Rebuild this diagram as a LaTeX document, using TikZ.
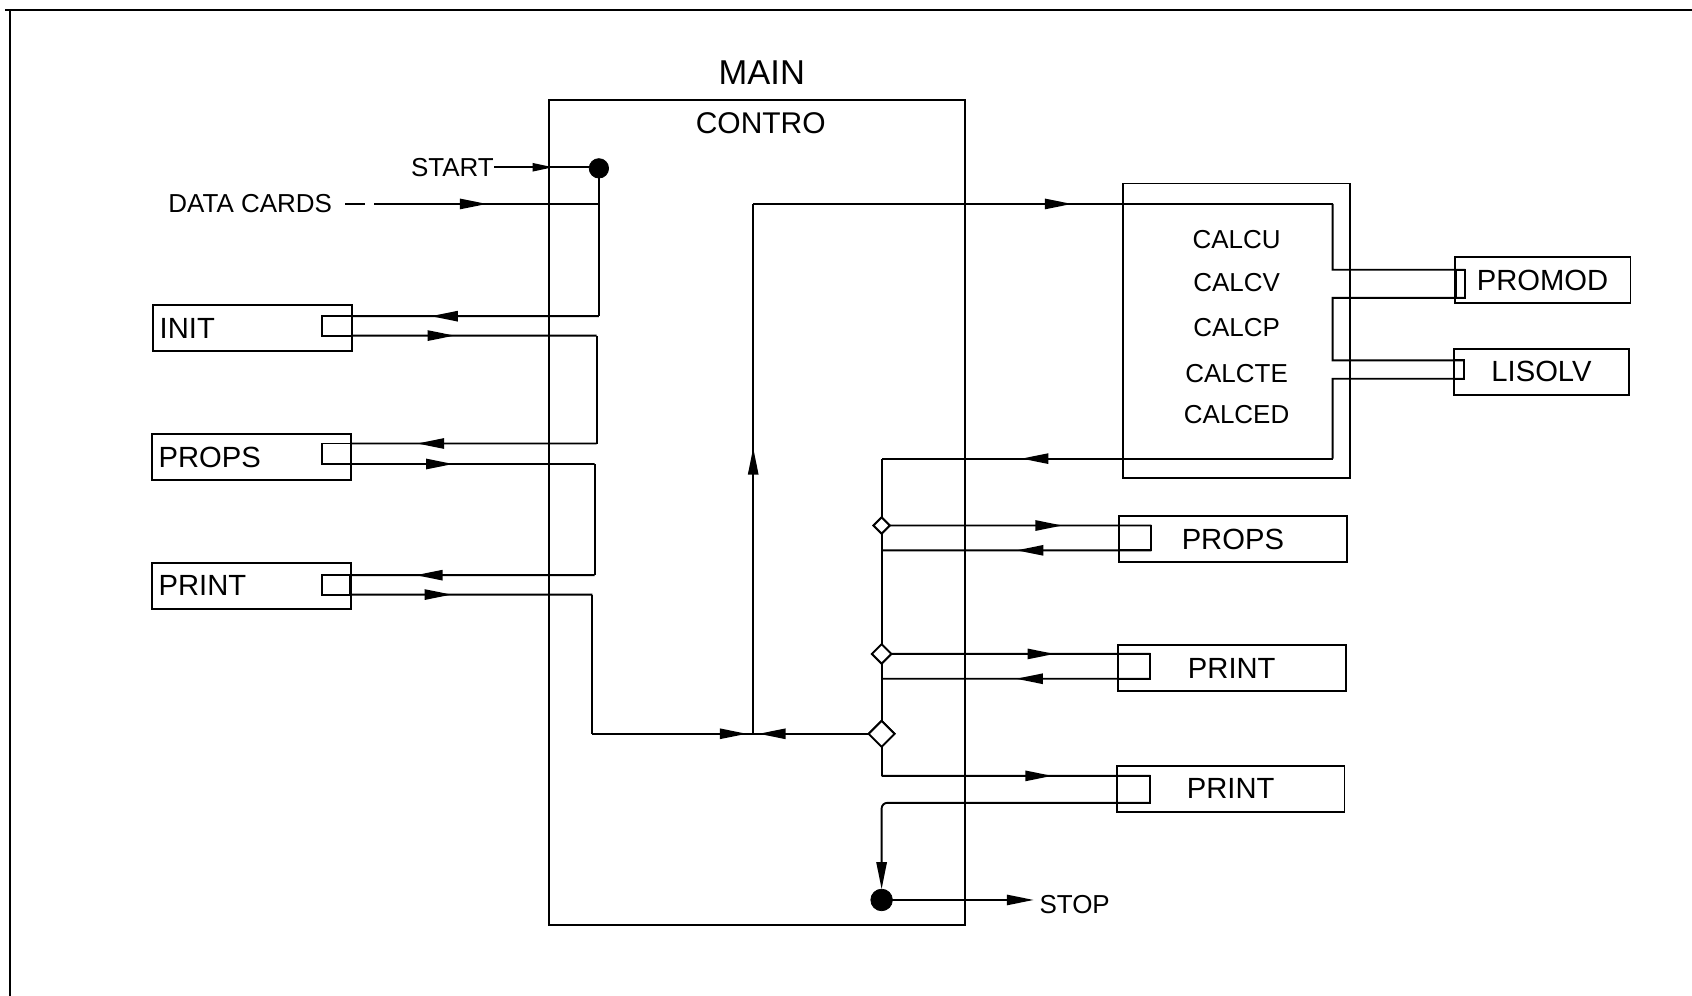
\documentclass[tikz,border=0pt]{standalone}
\usepackage{fontspec}
\setmainfont{Liberation Sans}
\usetikzlibrary{arrows.meta,decorations.markings,shapes.geometric}
\begin{document}
\begin{tikzpicture}[x=0.02cm, y=-0.02cm,
  ln/.style={line width=1pt},
  box/.style={draw, rectangle, line width=1pt, inner sep=0pt, outer sep=0pt},
  ah/.style={postaction={decorate}, decoration={markings, mark=at position #1 with {\arrow{Triangle[length=0.5cm,width=0.19cm]}}}},
  ahs/.style={postaction={decorate}, decoration={markings, mark=at position #1 with {\arrow{Triangle[length=0.38cm,width=0.15cm]}}}},
  endtip/.style={-{Triangle[length=0.5cm,width=0.19cm]}},
  sm/.style={font=\fontsize{13.7}{16}\selectfont, inner sep=0pt},
  bt/.style={font=\fontsize{15.4}{18}\selectfont},
  leftbox/.style={box, bt, minimum height=0.86cm, text width=3.44cm, align=left, inner xsep=0.12cm},
  rbox/.style={box, bt, minimum width=4.22cm, minimum height=0.85cm},
  dia/.style={diamond, draw, fill=white, line width=1pt, inner sep=0pt, outer sep=0pt, aspect=1, minimum size=#1},
  blob/.style={circle, draw, fill=black, inner sep=0pt, outer sep=0pt, minimum size=#1}
]
\useasboundingbox (0,0) rectangle (1568,923);

% frame
\draw[ln] (5,9) -- (1568,9);
\draw[ln] (9,9) -- (9,923);

% main program box
\node[box, minimum width=7.7cm, minimum height=15.28cm] (main) at (701.5,475) {};
\node[font=\fontsize{18.2}{20}\selectfont, inner sep=0pt] (maint) at (706,67) {MAIN};
\node[font=\fontsize{15.8}{18}\selectfont, inner sep=0pt] (contro) at (705,114) {CONTRO};

% left boxes
\node[leftbox] (init) at (234,304) {INIT};
\node[box, minimum width=0.56cm, minimum height=0.36cm] (initp) at (312,302) {};
\node[leftbox] (propsl) at (233,423.5) {PROPS};
\node[box, minimum width=0.54cm, minimum height=0.38cm] (propsp) at (311.5,420.5) {};
\node[leftbox] (printl) at (233,543) {PRINT};
\node[box, minimum width=0.52cm, minimum height=0.36cm] (printp) at (311,542) {};

% calc box
\node[box, minimum width=4.2cm, minimum height=5.46cm] (calc) at (1146,306.5) {};
\node[sm] (cu) at (1146,222) {CALCU};
\node[sm] (cv) at (1146,262) {CALCV};
\node[sm] (cp) at (1146,304) {CALCP};
\node[sm] (cte) at (1146,346) {CALCTE};
\node[sm] (ced) at (1146,384) {CALCED};

% promod / lisolv
\node[box, bt, minimum width=3.26cm, minimum height=0.86cm] (promod) at (1429.5,259.5) {PROMOD};
\node[box, minimum width=0.18cm, minimum height=0.52cm] (promodp) at (1353.5,263) {};
\node[box, bt, minimum width=3.26cm, minimum height=0.86cm] (lisolv) at (1428.5,344.5) {LISOLV};
\node[box, minimum width=0.2cm, minimum height=0.34cm] (lisolvp) at (1352,342.5) {};

% right boxes
\node[rbox] (propsr) at (1142.5,499.5) {PROPS};
\node[box, minimum width=0.6cm, minimum height=0.46cm] (propsRp) at (1052,498.5) {};
\node[rbox] (printr) at (1141.5,619) {PRINT};
\node[box, minimum width=0.6cm, minimum height=0.46cm] (printRp) at (1051,617.5) {};
\node[rbox] (printrr) at (1140.5,731) {PRINT};
\node[box, minimum width=0.62cm, minimum height=0.5cm] (printR3p) at (1050.5,731.5) {};

% start / stop
\node[blob=0.36cm] (sc) at (555,156) {};
\node[sm, anchor=east] (stt) at (458,155) {START};
\node[sm, anchor=east] (dct) at (308,189) {DATA CARDS};
\node[blob=0.4cm] (stopc) at (817,834) {};
\node[sm, anchor=west, inner xsep=0.1cm] (stopt) at (958,838) {STOP};

% junction coordinates
\coordinate (j0) at (555,189);
\coordinate (j1) at (555,293);
\coordinate (j2) at (553,311);
\coordinate (j3) at (553,411);
\coordinate (j4) at (551,430);
\coordinate (j5) at (551,533);
\coordinate (j6) at (549,551);
\coordinate (j7) at (549,680);
\coordinate (jc) at (698,680);
\coordinate (jt) at (698,189);
\coordinate (ja) at (1235,189);
\coordinate (jb) at (1235,250);
\coordinate (jd) at (1235,276);
\coordinate (je) at (1235,334);
\coordinate (jf) at (1235,351);
\coordinate (jg) at (1235,425);
\coordinate (jh) at (817,425);
\coordinate (jk) at (817,510);
\coordinate (jl) at (817,629);
\coordinate (jm) at (817,719);
\coordinate (jn) at (817,744);

% decision diamonds
\node[dia=0.3cm] (d1) at (817,487) {};
\node[dia=0.36cm] (d2) at (817,606) {};
\node[dia=0.48cm] (d3) at (817,680) {};

% left-side flow
\draw[ln, ahs=0.62] (stt.east) -- (stt.east -| sc.west);
\draw[ln, dash pattern=on 0pt off 0.24cm on 0.36cm off 0.18cm on 8cm, ah=0.58] (dct.east) -- (j0);
\draw[ln] (sc) -- (j1);
\draw[ln, ah=0.68] (j1) -- (initp.north east);
\draw[ln, ah=0.42] (initp.south east) -- (j2);
\draw[ln] (j2) -- (j3);
\draw[ln, ah=0.73] (j3) -- (propsp.north east);
\draw[ln, ah=0.42] (propsp.south east) -- (j4);
\draw[ln] (j4) -- (j5);
\draw[ln, ah=0.73] (j5) -- (printp.north east);
\draw[ln, ah=0.42] (printp.south east) -- (j6);
\draw[ln] (j6) -- (j7);
\draw[ln, ah=0.96] (j7) -- (jc);

% loop
\draw[ln, ah=0.953] (d3.west) -- (jc);
\draw[ln, ah=0.54] (jc) -- (jt);
\draw[ln, ah=0.55] (jt) -- (ja);
\draw[ln] (ja) -- (jb) -- (promodp.north east);
\draw[ln] (promodp.south east) -- (jd) -- (je) -- (lisolvp.north east);
\draw[ln] (lisolvp.south east) -- (jf) -- (jg);
\draw[ln, ah=0.69] (jg) -- (jh);
\draw[ln] (jh) -- (d1.north);
\draw[ln, ah=0.66] (d1.east) -- (propsRp.north east);
\draw[ln, ah=0.5] (propsRp.south east) -- (jk);
\draw[ln] (d1.south) -- (d2.north);
\draw[ln, ah=0.63] (d2.east) -- (printRp.north east);
\draw[ln, ah=0.5] (printRp.south east) -- (jl);
\draw[ln] (d2.south) -- (d3.north);
\draw[ln] (d3.south) -- (jm);
\draw[ln, ah=0.635] (jm) -- (printR3p.north east);
\draw[ln, endtip, rounded corners=3pt] (printR3p.south east) -- (jn) -- (stopc.north);
\draw[ln, endtip] (stopc.east) -- (stopc.east -| stopt.west);

% redraw diamonds on top
\node[dia=0.3cm] at (d1) {};
\node[dia=0.36cm] at (d2) {};
\node[dia=0.48cm] at (d3) {};
\end{tikzpicture}
\end{document}
